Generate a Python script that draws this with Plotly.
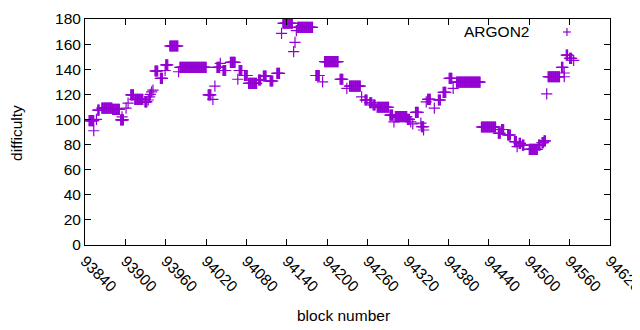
import plotly.graph_objects as go

# Runs of constant difficulty: (first block, last block, difficulty)
run_start = [93846, 93853, 93857, 93859, 93865, 93881, 93893, 93895, 93901, 93904, 93908, 93914, 93929,
             93934, 93936, 93937, 93939, 93941, 93944, 93952, 93959, 93960, 93966, 93979, 93981,
             94023, 94030, 94033, 94036, 94041, 94045, 94056, 94067, 94069, 94077, 94083, 94098,
             94105, 94115, 94125, 94132, 94134, 94150, 94152, 94154, 94156, 94183, 94193, 94196,
             94219, 94229, 94233, 94251, 94256, 94263, 94268, 94274, 94293, 94299, 94301, 94319,
             94324, 94327, 94331, 94339, 94340, 94343, 94347, 94349, 94359, 94365, 94372, 94381,
             94387, 94392, 94429, 94454, 94459, 94468, 94478, 94482, 94485, 94490, 94500, 94514,
             94519, 94522, 94526, 94528, 94548, 94552, 94552, 94555, 94560, 94566]
run_end = [93853, 93853, 93857, 93861, 93880, 93891, 93897, 93895, 93901, 93904, 93912, 93926, 93932,
           93934, 93936, 93937, 93939, 93941, 93948, 93955, 93959, 93963, 93978, 93979, 94020,
           94027, 94030, 94033, 94040, 94041, 94049, 94063, 94067, 94073, 94081, 94095, 94101,
           94109, 94119, 94129, 94132, 94148, 94150, 94152, 94154, 94178, 94188, 94193, 94216,
           94223, 94229, 94249, 94251, 94259, 94266, 94271, 94291, 94297, 94299, 94318, 94322,
           94324, 94327, 94335, 94339, 94343, 94343, 94347, 94353, 94359, 94368, 94376, 94385,
           94387, 94427, 94450, 94457, 94462, 94472, 94481, 94482, 94487, 94492, 94512, 94516,
           94521, 94524, 94526, 94545, 94550, 94552, 94552, 94557, 94563, 94566]
run_diff = [99, 91, 100, 107.5, 109, 108, 99.6, 102, 109, 113, 119.5, 116, 114,
            115.5, 118, 120, 122, 123.4, 138.6, 132.7, 139, 143.4, 158.5, 138, 141.5,
            119.5, 116, 126.6, 141.5, 144.7, 139, 145.5, 132, 139, 135, 128.8, 131.4,
            134.6, 130.6, 136.7, 168.6, 176.6, 154, 161.4, 170.7, 173.4, 135, 130, 146,
            132, 124.8, 126.6, 118, 115.5, 113.3, 111.5, 109.7, 103.5, 98, 102.2, 100,
            98, 96.4, 105.7, 97, 94.2, 91.6, 114, 116, 109, 115.5, 121.6, 132.7,
            124.8, 129.8, 94, 89, 92, 87.6, 82.3, 78.3, 81, 79.6, 76.2, 79.6,
            81.5, 83, 120.3, 134, 141.5, 134, 137, 151.3, 148.7, 147]

blocks, diffs = [], []
for s, e, d in zip(run_start, run_end, run_diff):
    for b in range(s, e + 1):
        blocks.append(b)
        diffs.append(d)

x_ticks = list(range(93840, 94621, 60))
y_ticks = list(range(0, 181, 20))
series_name = "ARGON2"
x_title = "block number"
y_title = "difficulty"
color = "#9400D3"
font_family = "Liberation Sans, Arial, sans-serif"
fs = 15.5

fig = go.Figure()
fig.add_trace(go.Scatter(
    x=blocks, y=diffs, mode="markers", name=series_name, showlegend=False,
    marker=dict(symbol="cross-thin", size=8, line=dict(color=color, width=1.2), color=color),
))

axis_common = dict(
    showgrid=False, zeroline=False, showline=True, linecolor="black", linewidth=1,
    mirror="ticks", ticks="inside", ticklen=6, tickcolor="black", automargin=False,
    ticklabeloverflow="allow",
    tickfont=dict(family=font_family, size=fs, color="black"),
)
fig.update_xaxes(range=[93840, 94620], tickvals=x_ticks, ticktext=[str(t) for t in x_ticks],
                 tickangle=45, **axis_common)
fig.update_yaxes(range=[0, 180], tickvals=y_ticks, **axis_common)

fig.add_annotation(xref="paper", yref="paper", x=0.493, y=-0.31, text=x_title, showarrow=False,
                   xanchor="center", yanchor="middle", font=dict(family=font_family, size=fs, color="black"))
fig.add_annotation(xref="paper", yref="paper", x=-0.1295, y=0.496, text=y_title, showarrow=False,
                   textangle=-90, xanchor="center", yanchor="middle",
                   font=dict(family=font_family, size=fs, color="black"))

# key (gnuplot style: text then sample)
fig.add_annotation(xref="paper", yref="paper", x=0.8495, y=0.9425, text=series_name,
                   showarrow=False, xanchor="right", yanchor="middle",
                   font=dict(family=font_family, size=fs, color="black"))
fig.add_shape(type="line", xref="paper", yref="paper", x0=0.9105, x1=0.9255, y0=0.9425, y1=0.9425,
              line=dict(color=color, width=1.2))
fig.add_shape(type="line", xref="paper", yref="paper", x0=0.918, x1=0.918, y0=0.925, y1=0.96,
              line=dict(color=color, width=1.2))

# page body has an 8px margin, so the figure is 8px smaller and margins shifted
fig.update_layout(
    width=632, height=322, margin=dict(l=77, r=30, t=11, b=85),
    paper_bgcolor="white", plot_bgcolor="white",
    font=dict(family=font_family, size=fs, color="black"),
)
fig.write_html("out.html")
